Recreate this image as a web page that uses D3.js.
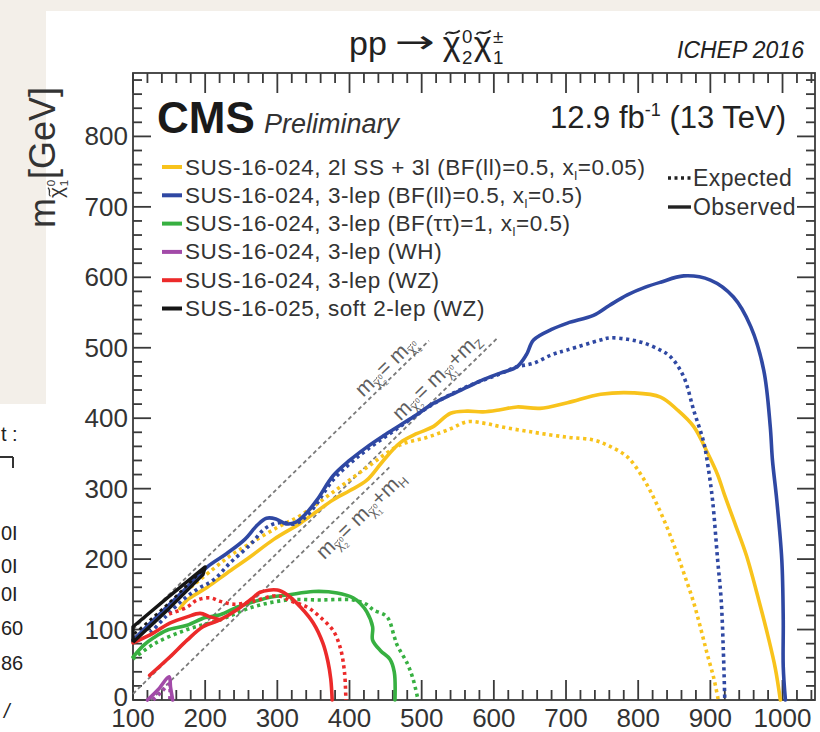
<!DOCTYPE html>
<html>
<head>
<meta charset="utf-8">
<script src="https://cdn.jsdelivr.net/npm/d3@7"></script>
<style>
  body { margin: 0; background: #f3efe9; }
  svg { display: block; font-family: "Liberation Sans", Arial, Helvetica, sans-serif; }
</style>
</head>
<body>
<svg id="chart" width="820" height="732"></svg>
<script>
// ---- axis ranges and ticks ----
const xDomain = [100, 1045];
const yDomain = [0, 890];
const xMajorTicks = [100, 200, 300, 400, 500, 600, 700, 800, 900, 1000];
const yMajorTicks = [0, 100, 200, 300, 400, 500, 600, 700, 800];
const minorStep = 20;

// ---- exclusion contours: [m(chargino/neutralino2), m(LSP)] in GeV ----
const yellowObs = [[165,130],[175,142],[203,160],[230,180],[262,203],[295,228],[332,251],[355,268],[377,284],[400,297],[424,312],[447,340],[470,365],[493,378],[516,388],[540,407],[563,410],[585,409],[609,412],[632,416],[664,414],[702,422],[748,434],[793,436],[831,430],[854,412],[877,388],[896,351],[910,320],[920,290],[935,248],[950,205],[967,142],[980,90],[990,45],[997,0]];
const yellowExp = [[180,160],[210,185],[235,205],[262,222],[300,245],[332,262],[377,295],[424,330],[470,362],[508,373],[540,385],[563,395],[586,393],[609,388],[655,380],[702,373],[738,369],[761,360],[785,345],[805,318],[823,284],[840,245],[853,210],[865,175],[877,138],[887,100],[896,64],[905,30],[911,0]];
const blueObs = [[100,85],[114,99],[140,125],[170,155],[203,189],[230,208],[255,228],[272,248],[285,258],[298,257],[312,250],[325,252],[340,265],[355,284],[377,318],[400,340],[424,359],[447,375],[470,390],[493,405],[516,421],[540,433],[563,444],[586,455],[609,464],[632,473],[645,490],[655,511],[680,526],[702,535],[738,546],[760,560],[785,575],[810,586],[831,593],[863,602],[900,596],[932,572],[956,530],[974,468],[983,388],[986,341],[992,284],[999,199],[1001,114],[1001,47],[1004,0]];
const blueExp = [[124,95],[145,118],[169,142],[190,158],[211,170],[235,195],[262,220],[285,245],[305,252],[325,250],[345,266],[377,312],[400,335],[424,355],[470,388],[516,420],[563,445],[609,463],[632,473],[655,478],[680,490],[702,497],[748,511],[761,514],[785,512],[807,507],[830,497],[845,487],[863,459],[877,411],[891,365],[897,330],[903,284],[910,200],[915,142],[918,70],[920,0]];
const greenObs = [[100,61],[115,78],[128,88],[147,99],[175,106],[200,117],[221,121],[245,132],[266,139],[290,146],[314,149],[350,154],[383,152],[405,145],[415,137],[424,125],[432,104],[432,85],[443,70],[456,58],[462,40],[463,0]];
const greenExp = [[100,58],[130,80],[175,100],[221,114],[266,132],[314,142],[359,142],[405,142],[423,136],[433,128],[452,118],[462,90],[466,78],[480,52],[488,30],[495,0]];
const purpleObs = [[120,0],[135,15],[150,33],[152,18],[155,0]];
const purpleExp = [[128,0],[140,12],[150,22],[151,0]];
const redObs = [[123,35],[151,61],[175,85],[197,104],[221,114],[244,128],[266,145],[276,153],[300,156],[314,149],[332,132],[350,109],[363,81],[370,55],[374,30],[376,0]];
const redObsBranch = [[100,81],[128,95],[151,109],[175,118],[193,123],[207,118],[221,114]];
const redExp = [[150,122],[175,132],[189,142],[207,145],[221,140],[240,136],[266,140],[300,148],[320,140],[341,132],[359,118],[377,99],[387,75],[393,40],[395,0]];
const blackObs = [[100,82],[150,130],[197,178],[200,189],[150,147],[100,104],[100,82]];
const blackExp = [[102,94],[150,138],[196,184]];

// kinematic boundaries: m(LSP) = m - offset
const diagonals = [
  { offset: 0,     from: 100, to: 510, labelAt: 462, labelShift: 12,  extra: null },
  { offset: 91.2,  from: 100, to: 605, labelAt: 535, labelShift: 15,  extra: "Z" },
  { offset: 125,   from: 125, to: 456, labelAt: 402, labelShift: -14, extra: "H" }
];

// legend
const legendNames = ["yellow", "blue", "green", "purple", "red", "black"];
const colors = {
  yellow: "#f8c31c", blue: "#2f48a3", green: "#37b041",
  purple: "#a24aa8", red: "#ec2a2a", black: "#151515"
};

const svg = d3.select("#chart");

// page background and the white slides
svg.append("rect").attr("width", 820).attr("height", 732).attr("fill", "#f3efe9");
svg.append("rect").attr("x", 46).attr("y", 11).attr("width", 774).attr("height", 721).attr("fill", "#ffffff");
svg.append("rect").attr("x", 0).attr("y", 404).attr("width", 46).attr("height", 328).attr("fill", "#ffffff");

// text on the neighbouring slide
const side = svg.append("g").attr("fill", "#222").attr("font-size", 20);
side.append("text").attr("x", 1).attr("y", 441).text("t :");
side.append("line").attr("x1", 0).attr("x2", 13).attr("y1", 457).attr("y2", 457).attr("stroke", "#333").attr("stroke-width", 2);
side.append("line").attr("x1", 13).attr("x2", 13).attr("y1", 457).attr("y2", 468).attr("stroke", "#333").attr("stroke-width", 2);
[["0I", 540], ["0I", 573], ["0I", 601], ["60", 635], ["86", 670]].forEach(([t, yy]) => {
  side.append("text").attr("x", 1).attr("y", yy).text(t);
});
side.append("text").attr("x", 4).attr("y", 718).attr("font-style", "italic").text("/");

// scales
const x = d3.scaleLinear().domain(xDomain).range([133, 815]);
const y = d3.scaleLinear().domain(yDomain).range([700, 73]);

// formula layout: items laid out left to right inside group g.
// item: {t} plain text, or {chi:true, sup, sub} for a tilded chi with stacked indices.
function formula(g, items, size, fill) {
  let cx = 0;
  const put = (t, px, py, fs) => g.append("text").attr("x", px).attr("y", py)
    .attr("font-size", fs).attr("fill", fill).text(t);
  items.forEach(it => {
    const fs = size * (it.s || 1);
    const dy = it.dy || 0;
    if (it.chi) {
      const c = put("\u03C7", cx, dy, fs);
      const w = c.node().getComputedTextLength();
      // tilde accent drawn as a small wave above the letter
      const tw = w * 0.8, tx0 = cx + w * 0.55 - tw / 2, ty = dy - fs * 0.66, a = fs * 0.06;
      g.append("path")
        .attr("d", `M${tx0},${ty + a} C${tx0 + tw * 0.25},${ty - 2 * a} ${tx0 + tw * 0.5},${ty + 2.4 * a} ${tx0 + tw},${ty - a}`)
        .attr("fill", "none").attr("stroke", fill).attr("stroke-width", Math.max(0.9, fs * 0.055));
      cx += w + fs * 0.04;
      let iw = 0;
      if (it.sup) { const e = put(it.sup, cx, dy - fs * 0.36, fs * 0.55); iw = Math.max(iw, e.node().getComputedTextLength()); }
      if (it.sub) { const e = put(it.sub, cx, dy + fs * 0.26, fs * 0.55); iw = Math.max(iw, e.node().getComputedTextLength()); }
      cx += iw + fs * 0.04;
    } else {
      const e = put(it.t, cx, dy, fs);
      cx += e.node().getComputedTextLength();
    }
  });
  return cx;
}

// ---- frame ----
const frame = svg.append("g").attr("stroke", "#3a3a3a").attr("stroke-width", 1.8);
frame.append("rect")
  .attr("x", x(xDomain[0])).attr("y", y(yDomain[1]))
  .attr("width", x(xDomain[1]) - x(xDomain[0]))
  .attr("height", y(yDomain[0]) - y(yDomain[1]))
  .attr("fill", "none");

const xMinor = d3.range(xDomain[0], xDomain[1] + 0.1, minorStep).filter(v => !xMajorTicks.includes(v));
const yMinor = d3.range(yDomain[0], yDomain[1] + 0.1, minorStep).filter(v => !yMajorTicks.includes(v));

function xTicks(vals, len) {
  vals.forEach(v => {
    frame.append("line").attr("x1", x(v)).attr("x2", x(v)).attr("y1", y(0)).attr("y2", y(0) - len);
    frame.append("line").attr("x1", x(v)).attr("x2", x(v)).attr("y1", y(yDomain[1])).attr("y2", y(yDomain[1]) + len);
  });
}
function yTicks(vals, len) {
  vals.forEach(v => {
    frame.append("line").attr("y1", y(v)).attr("y2", y(v)).attr("x1", x(xDomain[0])).attr("x2", x(xDomain[0]) + len);
    frame.append("line").attr("y1", y(v)).attr("y2", y(v)).attr("x1", x(xDomain[1])).attr("x2", x(xDomain[1]) - len);
  });
}
xTicks(xMajorTicks, 20); xTicks(xMinor, 10);
yTicks(yMajorTicks, 18); yTicks(yMinor, 9);

// tick labels
const tl = svg.append("g").attr("fill", "#333").attr("font-size", 26);
xMajorTicks.forEach(v => tl.append("text").attr("x", x(v)).attr("y", 727).attr("text-anchor", "middle").text(v));
yMajorTicks.forEach(v => tl.append("text").attr("x", 128).attr("y", y(v) + (v === 0 ? 6 : 9)).attr("text-anchor", "end").text(v));

// y axis title
const yt = svg.append("g").attr("transform", "translate(55,228) rotate(-90)");
formula(yt, [{ t: "m" }, { chi: true, s: 0.58, dy: 8, sup: "0", sub: "1" }, { t: " [GeV]" }], 36, "#333");

// ---- kinematic lines ----
const ang = Math.atan2(y(200) - y(100), x(200) - x(100)) * 180 / Math.PI;
const diagG = svg.append("g");
diagonals.forEach(d => {
  diagG.append("line")
    .attr("x1", x(d.from)).attr("y1", y(d.from - d.offset))
    .attr("x2", x(d.to)).attr("y2", y(d.to - d.offset))
    .attr("stroke", "#7a7a7a").attr("stroke-width", 1.8).attr("stroke-dasharray", "4,3");
  const g = diagG.append("g")
    .attr("transform", `translate(${x(d.labelAt)},${y(d.labelAt - d.offset)}) rotate(${ang})`);
  const inner = g.append("g");
  const items = [
    { t: "m" }, { chi: true, s: 0.62, dy: 4, sup: "0", sub: "2" },
    { t: " = m" }, { chi: true, s: 0.62, dy: 4, sup: "0", sub: "1" }
  ];
  if (d.extra) items.push({ t: "+m" }, { t: d.extra, s: 0.6, dy: 4 });
  const w = formula(inner, items, 21, "#5f5f5f");
  inner.attr("transform", `translate(${-w / 2},${-d.labelShift + 7})`);
});

// ---- contours ----
const line = d3.line().x(d => x(d[0])).y(d => y(d[1])).curve(d3.curveCatmullRom.alpha(0.5));
const curves = svg.append("g").attr("fill", "none").attr("stroke-linejoin", "round");
function draw(data, col, dotted, w) {
  curves.append("path").attr("d", line(data))
    .attr("stroke", colors[col]).attr("stroke-width", w || 3.6)
    .attr("stroke-dasharray", dotted ? "3.2,3.6" : null)
    .attr("stroke-linecap", dotted ? "butt" : "round");
}
draw(yellowExp, "yellow", true);
draw(yellowObs, "yellow", false);
draw(blueExp, "blue", true);
draw(blueObs, "blue", false);
draw(greenExp, "green", true);
draw(greenObs, "green", false);
draw(purpleExp, "purple", true);
draw(purpleObs, "purple", false);
draw(redExp, "red", true);
draw(redObsBranch, "red", false);
draw(redObs, "red", false);
curves.append("path").attr("d", d3.line().x(d => x(d[0])).y(d => y(d[1]))(blackObs))
  .attr("stroke", colors.black).attr("stroke-width", 3.4);
draw(blackExp, "black", true, 2.6);

// ---- title and labels ----
const title = svg.append("g").attr("transform", "translate(349,55)");
let tx = formula(title, [{ t: "pp" }], 34, "#222");
title.append("text").attr("x", tx + 8).attr("y", -2).attr("font-size", 32)
  .attr("font-family", "DejaVu Sans").attr("fill", "#222")
  .attr("textLength", 40).attr("lengthAdjust", "spacingAndGlyphs").text("\u2192");
const chis = title.append("g").attr("transform", `translate(${tx + 56},0)`);
formula(chis, [{ chi: true, sup: "0", sub: "2" }, { t: " ", s: 0.3 }, { chi: true, sup: "\u00B1", sub: "1" }], 34, "#222");

svg.append("text").attr("x", 804).attr("y", 58).attr("text-anchor", "end")
  .attr("font-size", 23).attr("font-style", "italic").attr("fill", "#222").text("ICHEP 2016");

svg.append("text").attr("x", 157).attr("y", 133).attr("font-size", 44).attr("font-weight", "bold").attr("fill", "#1a1a1a").text("CMS");
svg.append("text").attr("x", 264).attr("y", 133).attr("font-size", 27).attr("font-style", "italic").attr("fill", "#333").text("Preliminary");
const lumi = svg.append("text").attr("x", 786).attr("y", 128).attr("text-anchor", "end").attr("fill", "#222").attr("font-size", 31);
lumi.append("tspan").text("12.9 fb");
lumi.append("tspan").attr("font-size", 18).attr("dy", -12).text("-1");
lumi.append("tspan").attr("dy", 12).text(" (13 TeV)");

// legend
const legendText = [
  ["SUS-16-024, 2l SS + 3l (BF(ll)=0.5, x", "l", "=0.05)"],
  ["SUS-16-024, 3-lep (BF(ll)=0.5, x", "l", "=0.5)"],
  ["SUS-16-024, 3-lep (BF(\u03C4\u03C4)=1, x", "l", "=0.5)"],
  ["SUS-16-024, 3-lep (WH)"],
  ["SUS-16-024, 3-lep (WZ)"],
  ["SUS-16-025, soft 2-lep (WZ)"]
];
const leg = svg.append("g");
legendNames.forEach((c, i) => {
  const yy = 167 + 28.3 * i;
  leg.append("line").attr("x1", 162).attr("x2", 182).attr("y1", yy).attr("y2", yy)
    .attr("stroke", colors[c]).attr("stroke-width", 4);
  const t = leg.append("text").attr("x", 185).attr("y", yy + 7.5).attr("fill", "#333")
    .attr("font-size", 22.5).attr("letter-spacing", 0.55);
  const parts = legendText[i];
  t.append("tspan").text(parts[0]);
  if (parts.length > 1) {
    t.append("tspan").attr("font-size", 13).attr("dy", 5).text(parts[1]);
    t.append("tspan").attr("dy", -5).text(parts[2]);
  }
});
leg.append("line").attr("x1", 668).attr("x2", 691).attr("y1", 178).attr("y2", 178)
  .attr("stroke", "#222").attr("stroke-width", 3.4).attr("stroke-dasharray", "3,3.5");
leg.append("text").attr("x", 693).attr("y", 185.5).attr("font-size", 23).attr("letter-spacing", 0.4).attr("fill", "#333").text("Expected");
leg.append("line").attr("x1", 668).attr("x2", 691).attr("y1", 207).attr("y2", 207)
  .attr("stroke", "#222").attr("stroke-width", 3.4);
leg.append("text").attr("x", 693).attr("y", 214.5).attr("font-size", 23).attr("letter-spacing", 0.4).attr("fill", "#333").text("Observed");
</script>
</body>
</html>
